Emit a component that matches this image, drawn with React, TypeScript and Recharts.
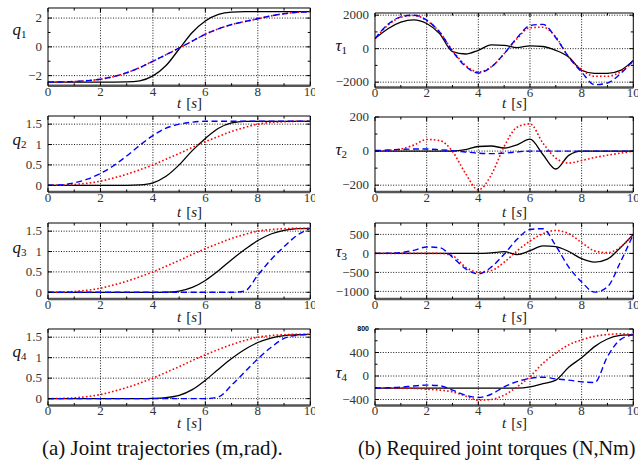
import React from 'react';
import { LineChart, Line, XAxis, YAxis, ReferenceLine } from 'recharts';

// ---------- data ----------
const T = [0, 0.5, 1, 1.5, 2, 2.5, 3, 3.5, 4, 4.5, 5, 5.5, 6, 6.5, 7, 7.5, 8, 8.5, 9, 9.5, 10];
const X_TICKS = [0, 1, 2, 3, 4, 5, 6, 7, 8, 9, 10];
const X_LABELS = [0, 2, 4, 6, 8, 10];
const X_GRID = [2, 4, 6, 8];

const Q1_BLACK = [-2.45, -2.45, -2.45, -2.45, -2.45, -2.45, -2.44, -2.36, -2.02, -1.3, -0.15, 1.0, 1.8, 2.25, 2.42, 2.45, 2.45, 2.45, 2.45, 2.45, 2.45];
const Q1_RED = [-2.45, -2.44, -2.41, -2.35, -2.25, -2.07, -1.8, -1.44, -1.0, -0.55, -0.08, 0.4, 0.88, 1.25, 1.55, 1.76, 1.95, 2.15, 2.3, 2.4, 2.45];
const Q1_BLUE = [-2.45, -2.44, -2.41, -2.35, -2.25, -2.07, -1.8, -1.44, -1.0, -0.55, -0.08, 0.4, 0.88, 1.25, 1.55, 1.76, 1.95, 2.15, 2.3, 2.4, 2.45];

const Q2_BLACK = [0, 0, 0, 0, 0, 0, 0, 0.01, 0.06, 0.22, 0.5, 0.85, 1.15, 1.4, 1.53, 1.57, 1.57, 1.57, 1.57, 1.57, 1.57];
const Q2_RED = [0, 0.005, 0.02, 0.05, 0.1, 0.18, 0.27, 0.38, 0.5, 0.64, 0.78, 0.93, 1.07, 1.2, 1.32, 1.42, 1.5, 1.54, 1.56, 1.57, 1.57];
const Q2_BLUE = [0, 0.01, 0.06, 0.15, 0.29, 0.48, 0.72, 0.98, 1.22, 1.4, 1.5, 1.55, 1.57, 1.57, 1.57, 1.57, 1.57, 1.57, 1.57, 1.57, 1.57];

const Q3_BLACK = [0, 0, 0, 0, 0, 0, 0, 0, 0, 0.005, 0.03, 0.12, 0.29, 0.53, 0.8, 1.05, 1.27, 1.43, 1.52, 1.56, 1.57];
const Q3_RED = [0, 0.005, 0.02, 0.05, 0.1, 0.18, 0.27, 0.38, 0.5, 0.64, 0.78, 0.93, 1.07, 1.2, 1.32, 1.42, 1.5, 1.54, 1.56, 1.57, 1.57];
const Q3_BLUE = [0, 0, 0, 0, 0, 0, 0, 0, 0, 0, 0, 0, 0, 0, 0, 0.03, 0.42, 0.8, 1.12, 1.4, 1.57];

const Q4_BLACK = [0, 0, 0, 0, 0, 0, 0, 0, 0.005, 0.025, 0.08, 0.22, 0.45, 0.72, 0.98, 1.2, 1.37, 1.48, 1.54, 1.56, 1.57];
const Q4_RED = [0, 0.005, 0.02, 0.05, 0.1, 0.18, 0.27, 0.38, 0.5, 0.64, 0.78, 0.93, 1.07, 1.2, 1.32, 1.42, 1.5, 1.54, 1.56, 1.57, 1.57];
const Q4_BLUE = [0, 0, 0, 0, 0, 0, 0, 0, 0, 0, 0, 0, 0, 0.04, 0.33, 0.65, 0.97, 1.25, 1.47, 1.55, 1.57];

const TAU1_BLACK = [600, 1190, 1580, 1720, 1500, 900, -180, -320, -100, 230, 200, 60, 170, 130, -100, -500, -1290, -1480, -1480, -1300, -700];
const TAU1_RED = [600, 1400, 1880, 1980, 1680, 990, -100, -990, -1390, -1090, -300, 600, 1250, 1280, 700, -500, -1250, -1650, -1650, -1390, -750];
const TAU1_BLUE = [600, 1450, 1900, 2000, 1700, 1000, -150, -1050, -1450, -1100, -300, 650, 1380, 1450, 650, -500, -1400, -2150, -2050, -1500, -700];

const TAU2_BLACK = [0, 0, 0, 0, 0, 0, 0, 8, 27, 30, 18, 37, 70, -20, -105, -25, 0, 0, 0, 0, 0];
const TAU2_RED = [0, 3, 12, 35, 68, 62, -2, -130, -228, -140, 27, 140, 160, 47, -41, -70, -55, -38, -24, -12, 0];
const TAU2_BLUE = [3, 6, 10, 12, 12, 8, 2, -5, -12, -15, -12, -5, 0, 0, 0, 0, 0, 0, 0, 0, 0];

const TAU3_BLACK = [0, 0, 0, 0, 0, 0, 0, 0, 0, 15, 45, -30, 70, 200, 180, 50, -140, -230, -150, 150, 500];
const TAU3_RED = [0, 0, 0, 0, 0, 0, -60, -360, -490, -450, -233, 67, 326, 518, 603, 518, 285, 67, 20, 163, 500];
const TAU3_BLUE = [0, 2, 20, 80, 170, 150, -100, -400, -540, -360, -20, 370, 630, 650, 200, -360, -750, -1020, -880, -230, 500];

const TAU4_BLACK = [-205, -205, -205, -205, -205, -205, -205, -205, -205, -205, -205, -205, -185, -130, -70, 150, 310, 500, 630, 690, 705];
const TAU4_RED = [-205, -205, -205, -210, -225, -240, -270, -340, -410, -400, -325, -185, -10, 215, 390, 530, 615, 675, 705, 718, 705];
const TAU4_BLUE = [-205, -200, -190, -170, -155, -165, -240, -325, -365, -310, -185, -95, -40, -20, -50, -70, -100, -110, 330, 620, 700];

// ---------- styles ----------
const FONT = '"Liberation Serif"';
const SANS = '"Liberation Sans"';
const BLACK = { stroke: '#000000', width: 1.3, dash: undefined as string | undefined };
const RED = { stroke: '#ff0000', width: 1.6, dash: '1.6 2.2' };
const BLUE = { stroke: '#0000ff', width: 1.4, dash: '6 3.5' };

const fmt = (v: number) => (v < 0 ? '\u2212' + Math.abs(v) : String(v));
const rows = (vals: number[]) => T.map((t, i) => ({ t, v: vals[i] }));

type PanelCfg = {
  id: string;
  x0: number; x1: number; y0: number; y1: number;
  domain: [number, number];
  majors: number[];
  minors: number[];
  grid: number[];
  small?: number[];
  series: { vals: number[]; style: typeof BLACK }[];
};

const LX0 = 47.7, LX1 = 310, RX0 = 374.7, RX1 = 633;
const qDom: [number, number] = [-0.165, 1.7];
const qMaj = [0, 0.5, 1, 1.5];

const PANELS: PanelCfg[] = [
  { id: 'q1', x0: LX0, x1: LX1, y0: 8.3, y1: 86, domain: [-2.7, 2.7], majors: [-2, 0, 2], minors: [-1, 1], grid: [-2, 0, 2],
    series: [{ vals: Q1_BLACK, style: BLACK }, { vals: Q1_RED, style: RED }, { vals: Q1_BLUE, style: BLUE }] },
  { id: 'q2', x0: LX0, x1: LX1, y0: 115.7, y1: 191.7, domain: qDom, majors: qMaj, minors: [], grid: qMaj,
    series: [{ vals: Q2_BLACK, style: BLACK }, { vals: Q2_RED, style: RED }, { vals: Q2_BLUE, style: BLUE }] },
  { id: 'q3', x0: LX0, x1: LX1, y0: 223, y1: 299, domain: qDom, majors: qMaj, minors: [], grid: qMaj,
    series: [{ vals: Q3_BLACK, style: BLACK }, { vals: Q3_RED, style: RED }, { vals: Q3_BLUE, style: BLUE }] },
  { id: 'q4', x0: LX0, x1: LX1, y0: 329.3, y1: 405.7, domain: qDom, majors: qMaj, minors: [], grid: qMaj,
    series: [{ vals: Q4_BLACK, style: BLACK }, { vals: Q4_RED, style: RED }, { vals: Q4_BLUE, style: BLUE }] },
  { id: 't1', x0: RX0, x1: RX1, y0: 12.5, y1: 87, domain: [-2320, 2130], majors: [-2000, 0, 2000], minors: [-1000, 1000], grid: [-2000, 0, 2000],
    series: [{ vals: TAU1_BLACK, style: BLACK }, { vals: TAU1_RED, style: RED }, { vals: TAU1_BLUE, style: BLUE }] },
  { id: 't2', x0: RX0, x1: RX1, y0: 117.3, y1: 192.3, domain: [-240, 200], majors: [-200, 0, 200], minors: [-100, 100], grid: [-200, 0],
    series: [{ vals: TAU2_BLACK, style: BLACK }, { vals: TAU2_RED, style: RED }, { vals: TAU2_BLUE, style: BLUE }] },
  { id: 't3', x0: RX0, x1: RX1, y0: 223, y1: 299, domain: [-1200, 800], majors: [-1000, -500, 0, 500], minors: [], grid: [-1000, -500, 0, 500],
    series: [{ vals: TAU3_BLACK, style: BLACK }, { vals: TAU3_RED, style: RED }, { vals: TAU3_BLUE, style: BLUE }] },
  { id: 't4', x0: RX0, x1: RX1, y0: 329.3, y1: 405.7, domain: [-500, 800], majors: [-400, 0, 400], minors: [-200, 200, 600], grid: [-400, 0, 400], small: [800],
    series: [{ vals: TAU4_BLACK, style: BLACK }, { vals: TAU4_RED, style: RED }, { vals: TAU4_BLUE, style: BLUE }] },
];

// ---------- ticks ----------
function XTick(props: any) {
  const { x, y, payload, plotH } = props;
  const v = payload.value;
  const major = X_LABELS.includes(v);
  const len = major ? 4 : 2.5;
  return (
    <g>
      <line x1={x} y1={y} x2={x} y2={y - len} stroke="#000" strokeWidth={1} />
      <line x1={x} y1={y - plotH} x2={x} y2={y - plotH + len} stroke="#000" strokeWidth={1} />
      {major && (
        <text x={x} y={y + 10} textAnchor="middle" fontSize={13} style={{ fontFamily: FONT }} fill="#333">
          {v}
        </text>
      )}
    </g>
  );
}

function YTick(props: any) {
  const { x, y, payload, plotW, majors, small } = props;
  const v = payload.value;
  const isSmall = small && small.includes(v);
  const major = majors.includes(v) || isSmall;
  const len = major ? 4 : 2.5;
  return (
    <g>
      <line x1={x} y1={y} x2={x + len} y2={y} stroke="#000" strokeWidth={1} />
      <line x1={x + plotW} y1={y} x2={x + plotW - len} y2={y} stroke="#000" strokeWidth={1} />
      {majors.includes(v) && (
        <text x={x - 6} y={y + 4.3} textAnchor="end" fontSize={13} style={{ fontFamily: FONT }} fill="#333">
          {fmt(v)}
        </text>
      )}
      {isSmall && (
        <text x={x - 6} y={y + 2.5} textAnchor="end" fontSize={7} fontWeight="bold" style={{ fontFamily: SANS }} fill="#000">
          {v}
        </text>
      )}
    </g>
  );
}

const ML = 45, MT = 10, MR = 5, XH = 25;

function Panel({ p }: { p: PanelCfg }) {
  const plotW = p.x1 - p.x0;
  const plotH = p.y1 - p.y0;
  const yTicks = [...p.majors, ...p.minors, ...(p.small || [])];
  return (
    <div style={{ position: 'absolute', left: p.x0 - ML, top: p.y0 - MT }}>
      <LineChart width={plotW + ML + MR} height={plotH + MT + XH} margin={{ top: MT, right: MR, bottom: 0, left: 0 }}>
        <XAxis
          type="number"
          dataKey="t"
          domain={[0, 10]}
          ticks={X_TICKS}
          interval={0}
          height={XH}
          tickSize={0}
          tickMargin={0}
          tickLine={false}
          allowDataOverflow
          axisLine={{ stroke: '#555', strokeWidth: 2.5 }}
          tick={(tp: any) => <XTick {...tp} plotH={plotH} />}
        />
        <YAxis
          type="number"
          domain={p.domain}
          ticks={yTicks}
          interval={0}
          width={ML}
          tickSize={0}
          tickMargin={0}
          tickLine={false}
          allowDataOverflow
          axisLine={{ stroke: '#000', strokeWidth: 1 }}
          tick={(tp: any) => <YTick {...tp} plotW={plotW} majors={p.majors} small={p.small} />}
        />
        {X_GRID.map((g) => (
          <ReferenceLine key={'gx' + g} x={g} stroke="#000" strokeWidth={0.9} strokeDasharray="1 1.6" />
        ))}
        {p.grid.map((g) => (
          <ReferenceLine key={'gy' + g} y={g} stroke="#000" strokeWidth={0.9} strokeDasharray="1 1.6" />
        ))}
        <ReferenceLine y={p.domain[1]} stroke="#000" strokeWidth={1} />
        <ReferenceLine x={10} stroke="#000" strokeWidth={1} />
        {p.series.map((s, i) => (
          <Line
            key={p.id + i}
            data={rows(s.vals)}
            dataKey="v"
            type="monotone"
            stroke={s.style.stroke}
            strokeWidth={s.style.width}
            strokeDasharray={s.style.dash}
            dot={false}
            activeDot={false}
            isAnimationActive={false}
          />
        ))}
      </LineChart>
    </div>
  );
}

const Q_LABELS = [
  { n: '1', y: 35 }, { n: '2', y: 145 }, { n: '3', y: 253 }, { n: '4', y: 357 },
];
const TAU_LABELS = [
  { n: '1', y: 51 }, { n: '2', y: 155 }, { n: '3', y: 257 }, { n: '4', y: 378 },
];
const T_LABEL_Y = [108, 216.5, 322, 427.5];

export default function App() {
  return (
    <div style={{ position: 'absolute', left: 0, top: 0, width: 638, height: 464, background: '#fff', overflow: 'hidden', fontFamily: FONT }}>
      {PANELS.map((p) => (
        <Panel key={p.id} p={p} />
      ))}
      <svg width={638} height={464} style={{ position: 'absolute', left: 0, top: 0, pointerEvents: 'none' }}>
        {Q_LABELS.map((l) => (
          <text key={'q' + l.n} x={12.5} y={l.y} fontSize={17} fill="#111" style={{ fontFamily: FONT }}>
            <tspan fontStyle="italic">q</tspan>
            <tspan fontSize={11} dy={2.5}>{l.n}</tspan>
          </text>
        ))}
        {TAU_LABELS.map((l) => (
          <text key={'t' + l.n} x={335.5} y={l.y} fontSize={17} fill="#111" style={{ fontFamily: FONT }}>
            <tspan fontStyle="italic">τ</tspan>
            <tspan fontSize={11} dy={2.5}>{l.n}</tspan>
          </text>
        ))}
        {T_LABEL_Y.map((y, i) => (
          <React.Fragment key={'tl' + i}>
            <text x={177} y={y} fontSize={15} fill="#222" style={{ fontFamily: FONT }}>
              <tspan fontStyle="italic">t</tspan>
              <tspan dx={5}>[</tspan>
              <tspan fontStyle="italic">s</tspan>
              <tspan>]</tspan>
            </text>
            <text x={502} y={y} fontSize={15} fill="#222" style={{ fontFamily: FONT }}>
              <tspan fontStyle="italic">t</tspan>
              <tspan dx={5}>[</tspan>
              <tspan fontStyle="italic">s</tspan>
              <tspan>]</tspan>
            </text>
          </React.Fragment>
        ))}
        <text x={42} y={455} fontSize={21} fill="#111" style={{ fontFamily: FONT }}>(a) Joint trajectories (m,rad).</text>
        <text x={358} y={455} fontSize={20.2} fill="#111" style={{ fontFamily: FONT }}>(b) Required joint torques (N,Nm)</text>
      </svg>
    </div>
  );
}
